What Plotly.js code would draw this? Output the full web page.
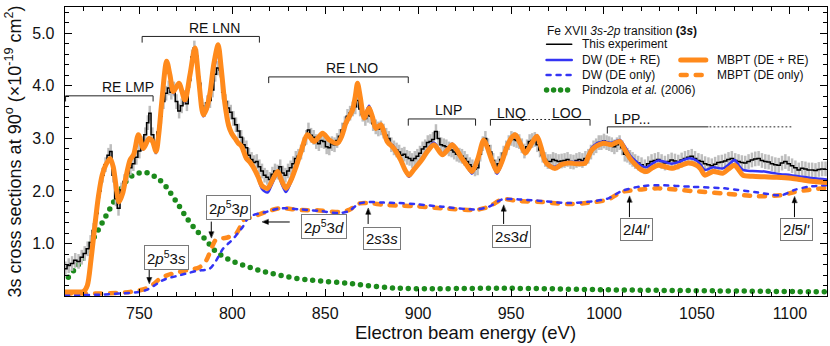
<!DOCTYPE html>
<html>
<head>
<meta charset="utf-8">
<script src="https://cdn.plot.ly/plotly-3.0.1.min.js"></script>
<style>
  html,body{margin:0;padding:0;background:#fff;}
  #chart{width:830px;height:346px;}
  /* round caps so the custom dash patterns give round dots / rounded dashes */
  .scatterlayer .js-line, .shapelayer path{stroke-linecap:round;}
</style>
</head>
<body>
<div id="chart"></div>
<script>
// ===== data =====
// experiment (step line + error bars)
const expE = [710.2,712.0,713.8,715.5,717.3,719.0,720.6,722.2,723.8,725.4,727.0,728.6,730.2,731.8,733.4,734.6,736.0,737.4,738.8,740.4,
  742.0,743.6,745.2,746.8,748.4,750.0,751.6,753.2,754.6,755.6,757.0,758.6,760.2,761.6,763.0,764.4,765.8,767.2,768.6,770.0,
  771.4,772.8,774.2,775.6,777.0,778.4,779.6,781.0,782.4,783.8,785.2,786.6,788.0,789.4,790.8,792.2,793.6,795.0,796.4,797.8,
  799.2,800.6,802.0,803.4,804.8,806.2,807.6,809.0,810.4,811.8,813.2,814.6,816.0,817.4,818.8,820.2,821.6,823.0,824.4,825.8,
  827.2,828.6,830.0,831.4,832.8,834.2,835.6,837.0,838.4,839.8,841.0,842.4,843.8,845.2,846.6,848.0,849.4,850.8,852.2,853.6,
  855.0,856.4,857.8,859.2,860.6,862.0,863.4,864.8,866.2,867.4,868.8,870.2,871.6,873.0,874.4,875.8,877.2,878.6,880.0,881.4,
  882.8,884.2,885.6,887.0,888.4,889.8,891.2,892.6,894.0,895.4,896.8,898.2,899.6,901.0,902.4,903.8,905.2,906.6,908.0,909.6,
  911.0,912.4,913.8,915.2,916.6,918.0,919.4,920.8,922.2,923.6,925.0,926.4,927.8,929.2,930.6,932.0,933.4,934.8,936.2,937.6,
  939.0,940.4,941.8,943.2,944.6,946.0,947.4,948.8,950.2,951.6,953.0,954.4,955.8,957.2,958.6,960.0,961.4,962.8,964.2,965.6,
  967.0,968.4,969.8,971.2,972.6,974.0,975.6,977.2,978.8,980.4,982.0,983.6,985.2,986.8,988.4,990.0,991.6,993.0,994.4,995.8,
  997.2,998.6,1000.0,1001.4,1002.8,1004.2,1005.6,1007.0,1008.4,1009.8,1011.2,1012.6,1014.0,1015.4,1016.8,1018.4,1020.2,1022.0,1023.8,1025.6,
  1027.4,1029.2,1031.0,1032.8,1034.6,1036.4,1038.2,1040.0,1041.8,1043.6,1045.4,1047.2,1049.0,1050.8,1052.6,1054.4,1056.2,1058.0,1059.8,1061.6,
  1063.4,1065.2,1067.0,1068.8,1070.6,1072.4,1074.2,1076.0,1077.8,1079.6,1081.4,1083.2,1085.0,1086.8,1088.6,1090.4,1092.2,1094.0,1095.8,1097.6,
  1099.4,1101.2,1103.0,1104.8,1106.6,1108.4,1110.2,1112.0,1113.8,1115.6,1117.4,1119.2];
const expV = [0.52,0.58,0.62,0.68,0.66,0.74,0.81,0.90,1.02,1.25,1.57,2.00,2.30,2.50,2.68,2.75,2.30,1.85,1.67,2.02,
  2.18,2.33,2.44,2.52,2.64,2.76,2.90,3.07,3.30,3.48,3.07,2.84,3.12,3.42,3.70,3.86,3.96,3.88,3.94,3.70,
  3.52,3.62,3.78,3.66,4.10,4.55,4.72,4.56,4.05,3.62,3.55,3.68,3.72,3.92,4.22,4.34,4.30,3.88,3.70,3.58,
  3.50,3.38,3.26,3.14,3.02,2.88,2.82,2.68,2.60,2.54,2.56,2.46,2.38,2.30,2.26,2.22,2.32,2.38,2.36,2.46,
  2.34,2.30,2.38,2.44,2.52,2.62,2.66,2.74,2.88,3.02,3.16,3.06,3.02,2.94,2.90,2.96,2.94,2.84,2.82,2.90,
  2.88,2.96,3.04,3.16,3.28,3.42,3.48,3.56,3.60,3.72,3.56,3.46,3.38,3.44,3.42,3.28,3.22,3.18,3.20,3.14,
  3.06,3.00,2.88,2.82,2.78,2.74,2.68,2.70,2.64,2.62,2.58,2.62,2.66,2.72,2.80,2.84,2.92,2.94,2.98,3.13,
  3.00,2.88,2.86,2.84,2.80,2.78,2.74,2.70,2.68,2.66,2.62,2.56,2.50,2.46,2.42,2.44,2.70,2.90,3.00,2.86,
  2.74,2.58,2.46,2.52,2.60,2.72,2.82,2.92,3.00,2.98,2.96,2.94,2.86,2.76,2.84,2.94,2.96,2.98,2.88,2.78,
  2.68,2.60,2.56,2.56,2.60,2.58,2.56,2.57,2.58,2.60,2.56,2.55,2.58,2.60,2.58,2.62,2.66,2.74,2.82,2.86,
  2.92,2.92,2.95,2.92,2.90,2.88,2.84,2.88,2.92,2.82,2.70,2.68,2.64,2.60,2.56,2.53,2.50,2.46,2.52,2.56,
  2.58,2.60,2.56,2.53,2.56,2.59,2.57,2.55,2.59,2.62,2.64,2.66,2.62,2.58,2.56,2.52,2.50,2.48,2.51,2.54,
  2.55,2.57,2.60,2.62,2.58,2.56,2.54,2.53,2.56,2.59,2.61,2.62,2.58,2.56,2.55,2.52,2.50,2.49,2.53,2.56,
  2.52,2.48,2.44,2.40,2.43,2.42,2.40,2.40,2.39,2.41,2.42,2.42];

// MBPT (DE + RE)
const mbptE = [710,716,720,722,724,726,728,730,732,734.3,736,737.8,739.1,741,743,745,747,749.5,752.2,755.2,
  757,759,760.5,762,764.7,766.5,768.3,771.3,774.5,777.2,779.9,782,784.4,786,788,790,792.4,794,796,798,
  799.6,801.5,803.2,805,807.6,809.5,811.2,813.9,816,819,821.5,824.4,826.5,828.9,831.5,834.3,837,840.5,844.1,848.6,
  852.2,856.6,859,861.1,864.7,866.2,867.4,868.8,871,873.6,875.5,877.2,879.9,883.4,887,890.6,893,895.1,898,901.3,
  905,908.5,913,916.5,918.3,920.5,923,926,929,932,935.3,937,940,942.5,945,947.8,950,952.3,955,957.7,
  961,963.9,966,968.4,971,973.8,977,980.9,985,989.9,991.5,993.4,996,999.7,1004.1,1006.5,1008.6,1011,1014,1017,
  1020.2,1023,1026,1029.2,1033,1036.4,1041,1045.3,1049.8,1052,1054.3,1058.7,1064.1,1067,1070.3,1072.5,1074.8,1080,1086.4,1093,
  1100.7,1107,1113.2,1120];
const mbptV = [0.08,0.08,0.09,0.20,0.70,1.32,1.90,2.30,2.50,2.62,2.45,2.00,1.79,1.95,2.30,2.59,2.70,3.07,2.81,3.00,
  2.95,2.75,3.10,3.67,4.47,4.20,3.89,4.05,3.73,4.20,4.72,4.10,3.45,3.55,3.86,4.40,4.78,4.35,3.67,3.25,
  3.10,3.00,2.91,2.85,2.62,2.55,2.46,2.27,2.10,2.05,2.20,2.37,2.20,2.05,2.20,2.46,2.75,3.07,2.94,3.10,
  2.97,2.91,3.05,3.29,3.54,3.80,4.05,3.80,3.39,3.58,3.40,3.19,3.26,2.94,2.81,2.59,2.40,2.30,2.42,2.56,
  2.75,2.88,2.69,2.81,2.88,2.80,2.65,2.50,2.37,2.60,2.97,2.85,2.55,2.37,2.55,2.84,3.00,3.07,2.90,2.72,
  2.90,3.04,2.85,2.56,2.47,2.43,2.50,2.53,2.52,2.53,2.65,2.78,2.86,2.91,2.88,2.92,2.94,2.80,2.62,2.50,
  2.40,2.37,2.44,2.49,2.46,2.43,2.48,2.53,2.49,2.42,2.30,2.37,2.34,2.42,2.49,2.40,2.30,2.28,2.27,2.26,
  2.24,2.21,2.18,2.16];

// DW (DE + RE), same energy grid as MBPT
const dwV = [0.08,0.08,0.09,0.20,0.70,1.32,1.90,2.30,2.50,2.62,2.45,2.00,1.79,1.95,2.30,2.59,2.70,3.05,2.79,2.98,
  2.93,2.72,3.08,3.65,4.45,4.18,3.86,4.02,3.70,4.16,4.68,4.06,3.42,3.52,3.80,4.30,4.60,4.30,3.64,3.22,
  3.08,2.98,2.90,2.83,2.60,2.53,2.44,2.24,2.04,1.97,2.14,2.33,2.14,1.98,2.16,2.43,2.73,3.05,2.93,3.09,
  2.97,2.92,3.06,3.30,3.55,3.78,4.00,3.82,3.44,3.62,3.42,3.20,3.27,2.96,2.84,2.60,2.38,2.27,2.42,2.58,
  2.78,2.92,2.72,2.84,2.90,2.82,2.66,2.49,2.33,2.58,2.97,2.84,2.52,2.33,2.52,2.83,3.00,3.08,2.92,2.74,
  2.92,3.06,2.87,2.58,2.49,2.46,2.52,2.55,2.55,2.56,2.68,2.82,2.90,2.94,2.92,2.95,2.97,2.86,2.68,2.57,
  2.48,2.45,2.52,2.58,2.55,2.52,2.56,2.62,2.58,2.50,2.40,2.45,2.43,2.50,2.59,2.49,2.40,2.38,2.37,2.33,
  2.30,2.27,2.24,2.22];

// DE only curves
const mbptDeE = [710,720,730,737.7,745,750.2,754,757.4,761,764.5,768.1,775.3,782.4,786,788.7,791.4,796.8,802.1,804,805.7,
  811,818.2,825.3,836.1,846.8,857.5,862.9,868.2,873.6,880.8,889.7,898.6,913,930.9,938,945.2,954.1,966.6,981,995.3,
  1002.4,1009.6,1020.3,1029.2,1047.1,1065,1082.9,1095.4,1102.6,1110,1120];
const mbptDeV = [0.05,0.05,0.05,0.06,0.08,0.11,0.15,0.22,0.33,0.39,0.43,0.49,0.55,0.68,0.90,1.08,1.11,1.19,1.30,1.44,
  1.51,1.60,1.67,1.64,1.63,1.60,1.64,1.76,1.77,1.74,1.72,1.71,1.67,1.64,1.70,1.84,1.81,1.79,1.75,1.79,
  1.84,1.98,2.03,2.05,2.00,1.95,1.90,1.92,1.98,2.02,2.06];
const dwDeE = [710,720,730,740,750,754,758,761,764.5,770,775.3,781,787.8,791.4,795,800.3,803,805.7,809.2,818.2,
  825.3,836.1,846.8,857.5,862.9,868.2,873.6,880.8,889.7,898.6,913,930.9,938,945.2,954.1,966.6,981,995.3,1002.4,1009.6,
  1020.3,1029.2,1047.1,1065,1082.9,1095.4,1102.6,1110,1120];
const dwDeV = [0.02,0.02,0.03,0.05,0.08,0.12,0.20,0.27,0.33,0.38,0.43,0.48,0.52,0.68,0.90,1.08,1.20,1.32,1.51,1.60,
  1.67,1.65,1.62,1.58,1.62,1.76,1.79,1.78,1.77,1.75,1.70,1.65,1.70,1.84,1.84,1.81,1.77,1.81,1.86,2.00,
  2.09,2.11,2.08,2.05,1.97,1.92,2.02,2.08,2.11];

// Pindzola et al. (2006)
const pinE = [711.8,715.4,719,722.5,725.4,729.8,734.3,738.8,744.2,749.5,754,758.5,763,770,776.4,781.5,786,790.5,798.5,807.5,
  816.4,825.3,836.1,846.8,862.9,880.8,898.6,945,1002,1060,1120];
const pinV = [0.36,0.52,0.68,0.92,1.10,1.38,1.67,1.95,2.24,2.34,2.35,2.27,2.14,1.79,1.44,1.22,1.06,0.87,0.69,0.57,
  0.47,0.40,0.33,0.29,0.24,0.17,0.14,0.15,0.12,0.10,0.08];

// ===== colours =====
const C_EXP='#000000', C_ERR='#bdbdbd', C_DW='#3434f4', C_MBPT='#ff8a1c', C_PIN='#1c8a1c';
const FONT='"Liberation Sans", Arial, Helvetica, sans-serif';

const traces = [
  {x:pinE, y:pinV, mode:'lines', line:{color:C_PIN, width:5.5, dash:'0px,8px', shape:'spline', smoothing:1}, name:'Pindzola et al. (2006)'},
  {x:mbptDeE, y:mbptDeV, mode:'lines', line:{color:C_MBPT, width:4.5, dash:'6px,9px', shape:'spline', smoothing:0.8}, name:'MBPT (DE only)'},
  {x:dwDeE, y:dwDeV, mode:'lines', line:{color:C_DW, width:2.5, dash:'4px,6px', shape:'spline', smoothing:0.8}, name:'DW (DE only)'},
  {x:expE, y:expV, mode:'lines', line:{color:C_EXP, width:1.5, shape:'hvh'},
   error_y:{type:'constant', value:0.14, color:C_ERR, thickness:2.5, width:0}, name:'This experiment'},
  {x:mbptE, y:dwV, mode:'lines', line:{color:C_DW, width:2.5, shape:'spline', smoothing:0.8}, name:'DW (DE + RE)'},
  {x:mbptE, y:mbptV, mode:'lines', line:{color:C_MBPT, width:5, shape:'spline', smoothing:0.8}, name:'MBPT (DE + RE)'}
];

const X0=710, X1=1120, Y0=0.002, Y1=5.5, PW=762, PH=289;
const kx=(X1-X0)/PW, ky=(Y1-Y0)/PH;   // data units per pixel

// ===== brackets over the resonance groups =====
const ink={color:'#222', width:1};
const shapes = [
  {type:'path', path:'M710.3,3.71 L710.3,3.81 L757.4,3.81 L757.4,3.71', line:ink},
  {type:'path', path:'M751.5,4.83 L751.5,4.94 L814.6,4.94 L814.6,4.83', line:ink},
  {type:'path', path:'M819.6,4.06 L819.6,4.17 L894.7,4.17 L894.7,4.06', line:ink},
  {type:'path', path:'M894.7,3.25 L894.7,3.37 L930.9,3.37 L930.9,3.25', line:ink},
  // LNQ ..... LOO
  {type:'path', path:'M938.9,3.25 L938.9,3.36 L958.6,3.36', line:ink},
  {type:'line', x0:959.5, x1:971.5, y0:3.36, y1:3.36, line:{color:'#222', width:1, dash:'1px,3px'}},
  {type:'path', path:'M972,3.36 L992.5,3.36 L992.5,3.25', line:ink},
  // LPP...
  {type:'path', path:'M1001.8,3.10 L1001.8,3.22 L1056,3.22', line:ink},
  {type:'line', x0:1057, x1:1101.6, y0:3.22, y1:3.22, line:{color:'#222', width:1, dash:'1px,3px'}}
].map(s=>Object.assign({xref:'x', yref:'y'}, s));

// arrows: shaft + filled head, head tip at (x,y), tail at (ax,ay)
function arrow(x,y,ax,ay){
  const L=6, W=2.4;   // head length / half width in px
  let p;
  if(ax===x){ const s=Math.sign(ay-y); const yb=y+s*L*ky;
    p=`M${x},${y} L${x-W*kx},${yb} L${x+W*kx},${yb} Z`;
    shapes.push({type:'line', xref:'x', yref:'y', x0:ax, y0:ay, x1:x, y1:yb, line:{color:'#000', width:1}});
  } else { const s=Math.sign(ax-x); const xb=x+s*L*kx;
    p=`M${x},${y} L${xb},${y-W*ky} L${xb},${y+W*ky} Z`;
    shapes.push({type:'line', xref:'x', yref:'y', x0:ax, y0:ay, x1:xb, y1:y, line:{color:'#000', width:1}});
  }
  shapes.push({type:'path', xref:'x', yref:'y', path:p, fillcolor:'#000', line:{color:'#000', width:0.5}});
}
arrow(755.3,0.24,755.3,0.50); arrow(788.7,1.11,788.7,1.41); arrow(816.2,1.41,830.7,1.41);
arrow(873.1,1.67,873.1,1.38); arrow(946,1.73,946,1.38); arrow(1013.7,1.90,1013.7,1.51); arrow(1102.5,1.89,1102.5,1.51);

// ===== hand-placed legend (two columns, as in the figure) =====
const LX0=0.632, LX1=0.665, RX0=0.808, RX1=0.841;
const legRows=[0.871,0.817,0.765,0.713];
function legLine(x0,x1,y,line){ shapes.push({type:'line', xref:'paper', yref:'paper', x0, x1, y0:y, y1:y, line}); }
legLine(LX0,LX1,legRows[0],{color:C_EXP, width:1.5});
legLine(LX0,LX1,legRows[1],{color:C_DW, width:2.5});
legLine(LX0,LX1,legRows[2],{color:C_DW, width:2.5, dash:'4px,6px'});
legLine(LX0,LX1,legRows[3],{color:C_PIN, width:5.5, dash:'0px,7px'});
legLine(RX0,RX1,legRows[1],{color:C_MBPT, width:5});
legLine(RX0,RX1,legRows[2],{color:C_MBPT, width:4.5, dash:'6px,9px'});

function legText(x,y,t){ return {xref:'paper', yref:'paper', x, y, xanchor:'left', yanchor:'middle', text:t, showarrow:false, font:{size:12, color:'#111'}}; }
const annotations = [
  legText(0.630,0.918,'Fe XVII <i>3s-2p</i> transition <b>(3<i>s</i>)</b>'),
  legText(0.676,legRows[0],'This experiment'),
  legText(0.676,legRows[1],'DW (DE + RE)'),
  legText(0.676,legRows[2],'DW (DE only)'),
  legText(0.676,legRows[3],'Pindzola <i>et al.</i> (2006)'),
  legText(0.853,legRows[1],'MBPT (DE + RE)'),
  legText(0.853,legRows[2],'MBPT (DE only)')
];

// group labels
function lab(x,y,t,anchor){ return {x, y, text:t, showarrow:false, xanchor:anchor||'center', yanchor:'middle', font:{size:14, color:'#111'}}; }
annotations.push(lab(743.8,3.97,'RE LMP'), lab(790.5,5.10,'RE LNN'), lab(864.3,4.34,'RE LNO'),
  lab(916.2,3.54,'LNP'), lab(950.5,3.49,'LNQ'), lab(980.2,3.49,'LOO'), lab(1004.5,3.36,'LPP...','left'));

// boxed configuration labels
function box(x,y,t){ return {x, y, text:t, showarrow:false, font:{size:15, color:'#111'}, bgcolor:'#fff', bordercolor:'#7a7a7a', borderwidth:1, borderpad:2}; }
annotations.push(box(764.7,0.74,'2<i>p</i><sup>5</sup>3<i>s</i>'), box(797.8,1.68,'2<i>p</i><sup>5</sup>3<i>p</i>'),
  box(849.5,1.33,'2<i>p</i><sup>5</sup>3<i>d</i>'), box(880.3,1.10,'2<i>s</i>3<i>s</i>'), box(950.5,1.13,'2<i>s</i>3<i>d</i>'),
  box(1017.6,1.27,'2<i>l</i>4<i>l\'</i>'), box(1103.4,1.27,'2<i>l</i>5<i>l\'</i>'));

// x-axis title sits a little right of the plot centre in the figure
annotations.push({xref:'paper', yref:'paper', x:0.526, y:-0.128, xanchor:'center', yanchor:'middle',
  text:'Electron beam energy (eV)', showarrow:false, font:{size:18.5, color:'#111'}});

const axisCommon = {showgrid:false, zeroline:false, showline:true, linecolor:'#000', linewidth:1.3,
  mirror:'allticks', ticks:'inside', ticklen:7, tickwidth:1, tickcolor:'#000',
  tickfont:{size:16, color:'#111'}};

const layout = {
  width:830, height:346,
  margin:{l:65, r:3, t:7, b:50},
  paper_bgcolor:'#fff', plot_bgcolor:'#fff',
  font:{family:FONT, color:'#111'},
  showlegend:false,
  xaxis:Object.assign({}, axisCommon, {range:[X0,X1], tick0:700, dtick:50, ticklabelstandoff:2,
    minor:{dtick:10, ticks:'inside', ticklen:4, tickcolor:'#000'}}),
  yaxis:Object.assign({}, axisCommon, {range:[Y0,Y1], tick0:0, dtick:1, tickformat:'.1f', ticklabelstandoff:6,
    minor:{dtick:0.2, ticks:'inside', ticklen:4, tickcolor:'#000'},
    title:{text:'3s cross sections at 90<sup>o</sup> (×10<sup>-19</sup> cm<sup>2</sup>)', font:{size:18, color:'#111'}, standoff:6}}),
  shapes, annotations
};

Plotly.newPlot('chart', traces, layout, {displayModeBar:false, staticPlot:true});
</script>
</body>
</html>
